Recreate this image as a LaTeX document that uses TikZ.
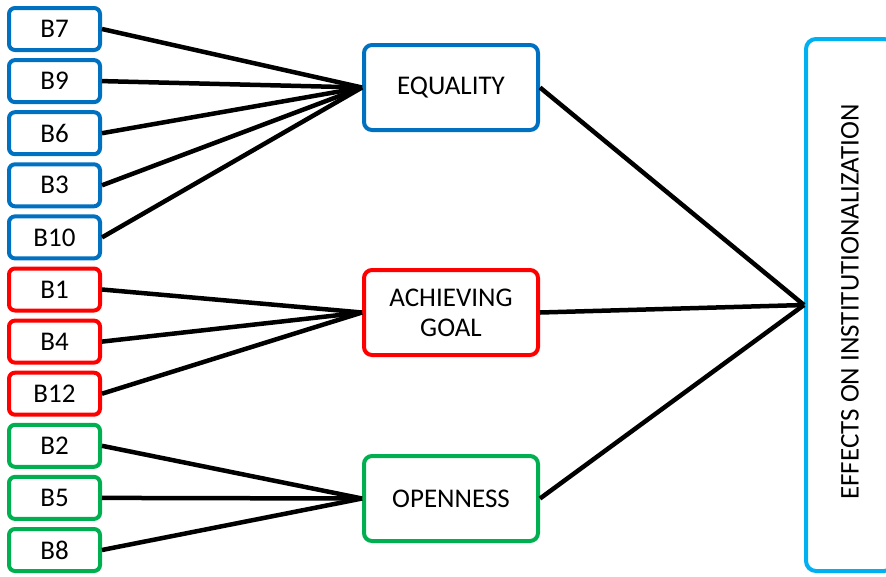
\documentclass[tikz,border=0pt]{standalone}
\usepackage{fontspec}
\setmainfont{Carlito}
\definecolor{cblue}{RGB}{0,112,192}
\definecolor{cred}{RGB}{255,0,0}
\definecolor{cgreen}{RGB}{0,176,80}
\definecolor{clight}{RGB}{0,176,240}
\begin{document}
\begin{tikzpicture}[x=1pt,y=-1pt,
  every node/.style={font=\fontsize{27}{31}\selectfont, text=black},
  item/.style={draw, line width=4pt, rounded corners=6pt, minimum width=91pt, minimum height=42pt, inner sep=0pt},
  group/.style={draw, line width=4pt, rounded corners=8pt, minimum width=174pt, minimum height=85pt, inner sep=0pt, align=center},
  link/.style={line width=4.5pt, black}]
\useasboundingbox (0,0) rectangle (886,576);
% right box
\node[draw=clight, line width=4pt, rounded corners=10pt, minimum width=88pt, minimum height=532pt, inner sep=0pt] (eff) at (850,305) {};
\node[rotate=90] (efftext) at (850,302) {EFFECTS ON INSTITUTIONALIZATION};
% middle boxes
\node[group, draw=cblue] (eq) at (451,87.5) {EQUALITY};
\node[group, draw=cred] (ag) at (451,312.5) {ACHIEVING\\[-1pt]GOAL};
\node[group, draw=cgreen] (op) at (451,498.5) {OPENNESS};
% left boxes
\foreach \n/\c/\i in {B7/cblue/0,B9/cblue/1,B6/cblue/2,B3/cblue/3,B10/cblue/4,B1/cred/5,B4/cred/6,B12/cred/7,B2/cgreen/8,B5/cgreen/9,B8/cgreen/10}{
  \node[item, draw=\c] (\n) at (54.5,29+52.1*\i) {\n};
}
\foreach \n in {B7,B9,B6,B3,B10}{\draw[link] (\n.east) -- (eq.west);}
\foreach \n in {B1,B4,B12}{\draw[link] (\n.east) -- (ag.west);}
\foreach \n in {B2,B5,B8}{\draw[link] (\n.east) -- (op.west);}
\draw[link] (eq.east) -- (eff.west);
\draw[link] (ag.east) -- (eff.west);
\draw[link] (op.east) -- (eff.west);
\end{tikzpicture}
\end{document}
